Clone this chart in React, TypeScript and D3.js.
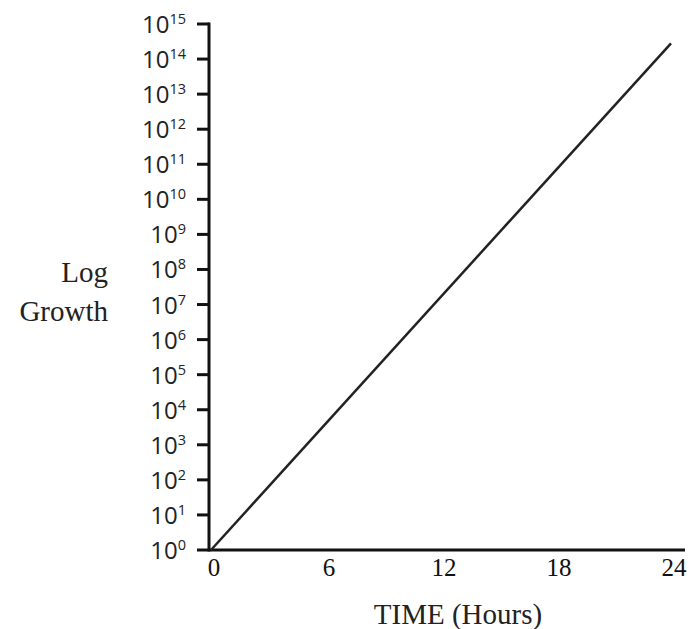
import React from 'react';
import * as d3 from 'd3';

// log10 exponents shown on the y axis
const exponents = d3.range(0, 16);
// hours on the x axis
const hourTicks = [0, 6, 12, 18, 24];
// the growth line: [hours, log10 of count]
const growth: [number, number][] = [
  [0, 0],
  [24, 14.45],
];

const W = 689;
const H = 629;

export default function App() {
  const x = d3.scaleLinear().domain([0, 24]).range([211, 671]);
  const y = d3.scaleLog().domain([1, 1e15]).range([550, 24]);

  const line = d3.line<[number, number]>()
    .x(d => x(d[0]))
    .y(d => y(Math.pow(10, d[1])));

  const axisX = 209;
  const axisY = y(1);

  return (
    <svg width={W} height={H} style={{ position: 'absolute', left: 0, top: 0, background: '#fff' }}>
      {/* y axis */}
      <line x1={axisX} x2={axisX} y1={y(1e15) - 1.5} y2={axisY + 1.5} stroke="#111" strokeWidth={3} />
      {exponents.map(e => {
        const yy = y(Math.pow(10, e));
        return (
          <g key={e}>
            <line x1={axisX - 12} x2={axisX} y1={yy} y2={yy} stroke="#111" strokeWidth={3} />
            <text
              x={186}
              y={yy + 9}
              textAnchor="end"
              fontFamily="'Open Sans', sans-serif"
              fontSize={24}
              fill="#222"
            >
              10<tspan fontSize={14.5} dy={-9}>{e}</tspan>
            </text>
          </g>
        );
      })}

      {/* x axis */}
      <line x1={axisX} x2={685} y1={axisY} y2={axisY} stroke="#111" strokeWidth={3} />
      {hourTicks.map(h => (
        <text
          key={h}
          x={x(h) + 3}
          y={576}
          textAnchor="middle"
          fontFamily="'Liberation Serif', 'Times New Roman', serif"
          fontSize={25}
          fill="#111"
        >
          {h}
        </text>
      ))}

      {/* growth line */}
      <path d={line(growth) ?? ''} fill="none" stroke="#222" strokeWidth={2.5} />

      {/* titles */}
      <text x={108} y={282} textAnchor="end" fontFamily="'Liberation Serif', 'Times New Roman', serif" fontSize={29} fill="#222">Log</text>
      <text x={108} y={321} textAnchor="end" fontFamily="'Liberation Serif', 'Times New Roman', serif" fontSize={29} fill="#222">Growth</text>
      <text x={458} y={624} textAnchor="middle" fontFamily="'Liberation Serif', 'Times New Roman', serif" fontSize={29} fill="#222">TIME (Hours)</text>
    </svg>
  );
}
